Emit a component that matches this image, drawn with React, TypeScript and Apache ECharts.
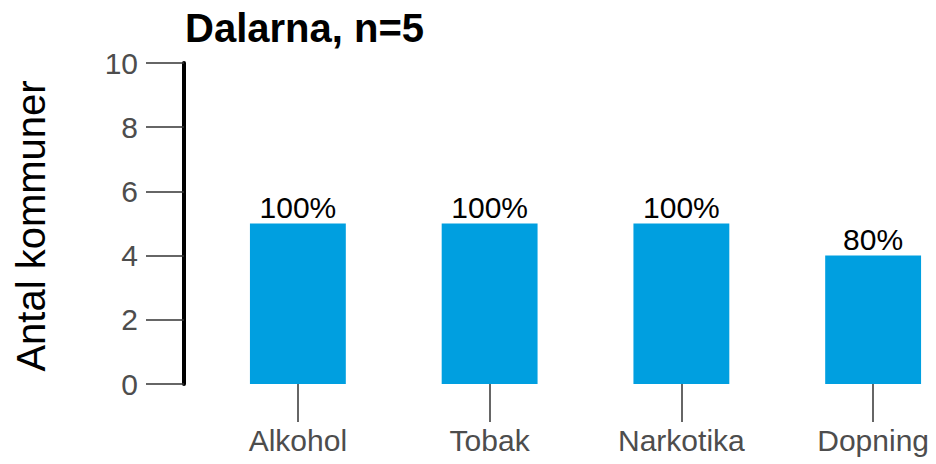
import React, { useEffect, useRef } from "react";
import * as echarts from "echarts";

const titleText = "Dalarna, n=5";
const yAxisName = "Antal kommuner";
const categories = ["Alkohol", "Tobak", "Narkotika", "Dopning"];
const counts = [5, 5, 5, 4];
const percentLabels = ["100%", "100%", "100%", "80%"];
const yMin = 0;
const yMax = 10;
const yInterval = 2;

const FONT = "'Liberation Sans', Arial, sans-serif";

export default function App() {
  const ref = useRef<HTMLDivElement>(null);
  useEffect(() => {
    document.body.style.margin = "0";
    const chart = echarts.init(ref.current!, null, { renderer: "svg" });
    chart.setOption({
      animation: false,
      backgroundColor: "#ffffff",
      title: {
        text: titleText,
        left: 180,
        top: 3,
        textStyle: { fontFamily: FONT, fontSize: 40, fontWeight: "bold", color: "#000" },
      },
      grid: { left: 202, right: 11, top: 63, bottom: 80, containLabel: false },
      xAxis: {
        type: "category",
        data: categories,
        axisLine: { show: false },
        axisTick: {
          show: true,
          alignWithLabel: true,
          length: 38,
          lineStyle: { color: "#333333", width: 1.5 },
        },
        axisLabel: { margin: 41, fontFamily: FONT, fontSize: 30, color: "#4D4D4D" },
        splitLine: { show: false },
      },
      yAxis: {
        type: "value",
        min: yMin,
        max: yMax,
        interval: yInterval,
        offset: 18,
        axisLine: { show: true, lineStyle: { color: "#000", width: 4 } },
        axisTick: { show: true, length: 38, lineStyle: { color: "#333333", width: 1.5 } },
        axisLabel: { margin: 46, fontFamily: FONT, fontSize: 30, color: "#4D4D4D" },
        splitLine: { show: false },
      },
      graphic: [
        {
          type: "text",
          x: 31,
          y: 226,
          rotation: Math.PI / 2,
          style: {
            text: yAxisName,
            fontFamily: FONT,
            fontSize: 40,
            fill: "#000",
            textAlign: "center",
            textVerticalAlign: "middle",
          },
        },
      ],
      series: [
        {
          type: "bar",
          data: counts,
          barWidth: "50%",
          itemStyle: { color: "#009FE0" },
          label: {
            show: true,
            position: "top",
            distance: 1,
            fontFamily: FONT,
            fontSize: 30,
            color: "#000",
            formatter: (p: any) => percentLabels[p.dataIndex],
          },
        },
      ],
    });
    return () => chart.dispose();
  }, []);
  return (
    <div style={{ width: 936, height: 464, overflow: "hidden", position: "relative" }}>
      <div ref={ref} style={{ width: 980, height: 464 }} />
    </div>
  );
}
